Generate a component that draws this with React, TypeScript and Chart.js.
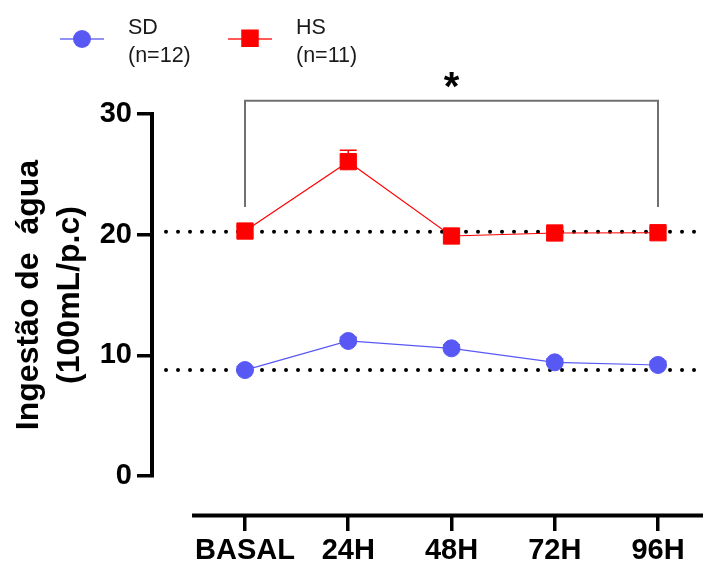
import React, { useEffect, useRef } from 'react';
import { Chart, registerables } from 'chart.js';

Chart.register(...registerables);

// ---- data ----
const xLabels = ['BASAL', '24H', '48H', '72H', '96H'];
const seriesNames = ['SD', 'HS'];
const seriesCounts = ['(n=12)', '(n=11)'];
const sdValues = [8.78, 11.19, 10.58, 9.42, 9.2];
const hsValues = [20.3, 26.05, 19.89, 20.14, 20.16];
const sdErrors = [0.3, 0.3, 0.3, 0.3, 0.3];
const hsErrors = [0.4, 0.95, 0.4, 0.4, 0.4];
const yTicks = [0, 10, 20, 30];
const yTitle = ['Ingestão de  água', '(100mL/p.c)'];
const refLines = [20.25, 8.78];
const bracketEnds = [0, 4];
const bracketLevels = [31.1, 22.3];
const significance = '*';

// ---- layout / style constants ----
const FONT = "'Liberation Sans', Arial, sans-serif";
const SD_COLOR = '#5858f5';
const HS_COLOR = '#ff0000';
const X_MIN = -0.9007;
const X_MAX = 4.4358;
const X_AXIS_AT = -3.27; // y value where the detached x axis sits
const X_AXIS_START = -0.513; // x value where the x axis line starts
const REF_START = -0.765;

const overlay = {
  id: 'overlay',
  beforeDatasetsDraw(chart: any) {
    const { ctx, chartArea } = chart;
    const x = chart.scales.x;
    const y = chart.scales.y;
    ctx.save();
    // dotted reference lines
    ctx.strokeStyle = '#000';
    ctx.lineWidth = 4;
    ctx.lineCap = 'round';
    ctx.setLineDash([0, 12]);
    for (const v of refLines) {
      const py = y.getPixelForValue(v);
      ctx.beginPath();
      ctx.moveTo(x.getPixelForValue(REF_START), py);
      ctx.lineTo(chartArea.right, py);
      ctx.stroke();
    }
    ctx.setLineDash([]);
    ctx.lineCap = 'butt';
    // bracket
    const bx0 = x.getPixelForValue(bracketEnds[0]);
    const bx1 = x.getPixelForValue(bracketEnds[1]);
    const byTop = y.getPixelForValue(bracketLevels[0]);
    const byBot = y.getPixelForValue(bracketLevels[1]);
    ctx.strokeStyle = '#707070';
    ctx.lineWidth = 2;
    ctx.lineJoin = 'miter';
    ctx.beginPath();
    ctx.moveTo(bx0, byBot);
    ctx.lineTo(bx0, byTop);
    ctx.lineTo(bx1, byTop);
    ctx.lineTo(bx1, byBot);
    ctx.stroke();
    // asterisk
    ctx.fillStyle = '#000';
    ctx.font = `bold 40px ${FONT}`;
    ctx.textAlign = 'center';
    ctx.textBaseline = 'alphabetic';
    const m = ctx.measureText(significance);
    const cy = byTop - 21;
    ctx.fillText(significance, (bx0 + bx1) / 2, cy + (m.actualBoundingBoxAscent - m.actualBoundingBoxDescent) / 2);
    // error bars (upper only)
    const sets = [
      { vals: sdValues, errs: sdErrors, color: SD_COLOR },
      { vals: hsValues, errs: hsErrors, color: HS_COLOR },
    ];
    for (const s of sets) {
      ctx.strokeStyle = s.color;
      ctx.lineWidth = 1.5;
      s.vals.forEach((v, i) => {
        const px = x.getPixelForValue(i);
        const pt = y.getPixelForValue(v + s.errs[i]);
        const pc = y.getPixelForValue(v);
        ctx.beginPath();
        ctx.moveTo(px, pt);
        ctx.lineTo(px, pc);
        ctx.moveTo(px - 8.5, pt);
        ctx.lineTo(px + 8.5, pt);
        ctx.stroke();
      });
    }
    // detached x axis line
    const ay = y.getPixelForValue(X_AXIS_AT);
    ctx.strokeStyle = '#000';
    ctx.lineWidth = 4;
    ctx.beginPath();
    ctx.moveTo(x.getPixelForValue(X_AXIS_START), ay);
    ctx.lineTo(chartArea.right, ay);
    ctx.stroke();
    ctx.restore();
  },
  afterDraw(chart: any) {
    const { ctx } = chart;
    ctx.save();
    const colors = [SD_COLOR, HS_COLOR];
    const lineColors = ['rgba(88,88,245,0.65)', 'rgba(255,0,0,0.65)'];
    seriesNames.forEach((name, i) => {
      const sx = 60 + i * 168;
      const cx = sx + 22;
      const cy = 39;
      ctx.strokeStyle = lineColors[i];
      ctx.lineWidth = 2;
      ctx.beginPath();
      ctx.moveTo(sx, cy);
      ctx.lineTo(sx + 44, cy);
      ctx.stroke();
      ctx.fillStyle = colors[i];
      if (i === 0) {
        ctx.beginPath();
        ctx.arc(cx, cy, 9, 0, Math.PI * 2);
        ctx.fill();
      } else {
        ctx.fillRect(cx - 8.75, cy - 9.5, 17.5, 17.5);
      }
      ctx.fillStyle = '#1a1a1a';
      ctx.font = `21.5px ${FONT}`;
      ctx.textAlign = 'left';
      ctx.textBaseline = 'alphabetic';
      ctx.fillText(name, sx + 68, 34);
      ctx.fillText(seriesCounts[i], sx + 68, 62);
    });
    ctx.restore();
  },
};

export default function App() {
  const ref = useRef<HTMLCanvasElement>(null);
  useEffect(() => {
    document.body.style.margin = '0';
    const canvas = ref.current;
    if (!canvas) return;
    const chart = new Chart(canvas, {
      type: 'line',
      data: {
        datasets: [
          {
            label: seriesNames[0],
            data: sdValues.map((v, i) => ({ x: i, y: v })),
            borderColor: SD_COLOR,
            backgroundColor: SD_COLOR,
            borderWidth: 1.2,
            pointStyle: 'circle',
            pointRadius: 8.5,
            pointBorderWidth: 1,
            pointBackgroundColor: SD_COLOR,
            pointBorderColor: SD_COLOR,
            tension: 0,
          },
          {
            label: seriesNames[1],
            data: hsValues.map((v, i) => ({ x: i, y: v })),
            borderColor: HS_COLOR,
            backgroundColor: HS_COLOR,
            borderWidth: 1.2,
            pointStyle: 'rect',
            pointRadius: 11.5,
            pointBorderWidth: 1,
            pointBackgroundColor: HS_COLOR,
            pointBorderColor: HS_COLOR,
            tension: 0,
          },
        ],
      },
      options: {
        responsive: false,
        animation: false,
        devicePixelRatio: 1,
        layout: { autoPadding: false, padding: { left: 0, right: 0, top: 114, bottom: 89 } },
        plugins: {
          legend: { display: false },
          tooltip: { enabled: false },
          title: { display: false },
        },
        scales: {
          x: {
            type: 'linear',
            position: { y: X_AXIS_AT } as any,
            min: X_MIN,
            max: X_MAX,
            border: { display: false },
            grid: {
              display: true,
              drawOnChartArea: false,
              drawTicks: true,
              tickLength: 16,
              lineWidth: 3.5,
              tickWidth: 3.5,
              color: '#000',
            },
            afterBuildTicks: (s: any) => {
              s.ticks = xLabels.map((_, i) => ({ value: i }));
            },
            afterFit: (s: any) => {
              s.paddingLeft = 0;
              s.paddingRight = 0;
            },
            ticks: {
              callback: (v: any) => xLabels[v] ?? '',
              font: { family: FONT, size: 29, weight: 'bold' },
              color: '#000',
              padding: 2,
              maxRotation: 0,
              autoSkip: false,
            },
          },
          y: {
            type: 'linear',
            position: 'left',
            min: 0,
            max: 30,
            afterBuildTicks: (s: any) => {
              s.ticks = yTicks.map((v) => ({ value: v }));
            },
            afterFit: (s: any) => {
              s.width = 152;
            },
            border: { display: true, width: 4, color: '#000' },
            grid: {
              drawOnChartArea: false,
              drawTicks: true,
              tickLength: 15,
              lineWidth: 3.5,
              tickWidth: 3.5,
              color: '#000',
            },
            ticks: {
              font: { family: FONT, size: 29, weight: 'bold' },
              color: '#000',
              padding: 5,
            },
            title: {
              display: true,
              text: yTitle,
              font: { family: FONT, size: 32, weight: 'bold', lineHeight: 1.3 },
              color: '#000',
              padding: { top: 8, bottom: 0 },
            },
          },
        },
      },
      plugins: [overlay],
    } as any);
    return () => chart.destroy();
  }, []);
  return <canvas ref={ref} width={703} height={565} style={{ display: 'block' }} />;
}
